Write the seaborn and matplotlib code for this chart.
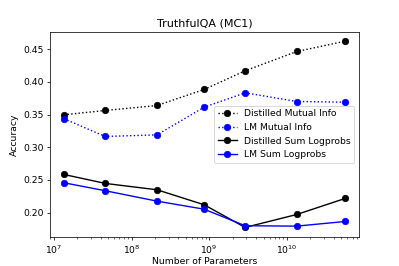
import matplotlib
matplotlib.use("Agg")
import matplotlib.pyplot as plt
import seaborn as sns
import pandas as pd

params = [1.35e7, 4.6e7, 2.13e8, 8.6e8, 2.9e9, 1.34e10, 5.6e10]
distilled_mi = [0.3497, 0.3563, 0.3639, 0.3884, 0.417, 0.4465, 0.4622]
lm_mi = [0.3436, 0.3165, 0.319, 0.3613, 0.3833, 0.370, 0.369]
distilled_sum = [0.2584, 0.2447, 0.235, 0.2121, 0.1774, 0.1972, 0.2217]
lm_sum = [0.2457, 0.2335, 0.2176, 0.2053, 0.180, 0.1794, 0.1865]

series = [
    ("Distilled Mutual Info", distilled_mi, "black", ":"),
    ("LM Mutual Info", lm_mi, "blue", ":"),
    ("Distilled Sum Logprobs", distilled_sum, "black", "-"),
    ("LM Sum Logprobs", lm_sum, "blue", "-"),
]

fig, ax = plt.subplots(figsize=(6, 4), dpi=66.5)
for label, vals, color, ls in series:
    df = pd.DataFrame({"params": params, "acc": vals})
    sns.lineplot(data=df, x="params", y="acc", ax=ax, color=color,
                 linestyle=ls, marker="o", markersize=7, markeredgecolor=color,
                 linewidth=1.5, label=label)

ax.set_xscale("log")
ax.set_title("TruthfulQA (MC1)")
ax.set_xlabel("Number of Parameters", labelpad=2)
ax.set_ylabel("Accuracy")
ax.legend(loc="center right")
fig.savefig("out.png", dpi=66.5)
